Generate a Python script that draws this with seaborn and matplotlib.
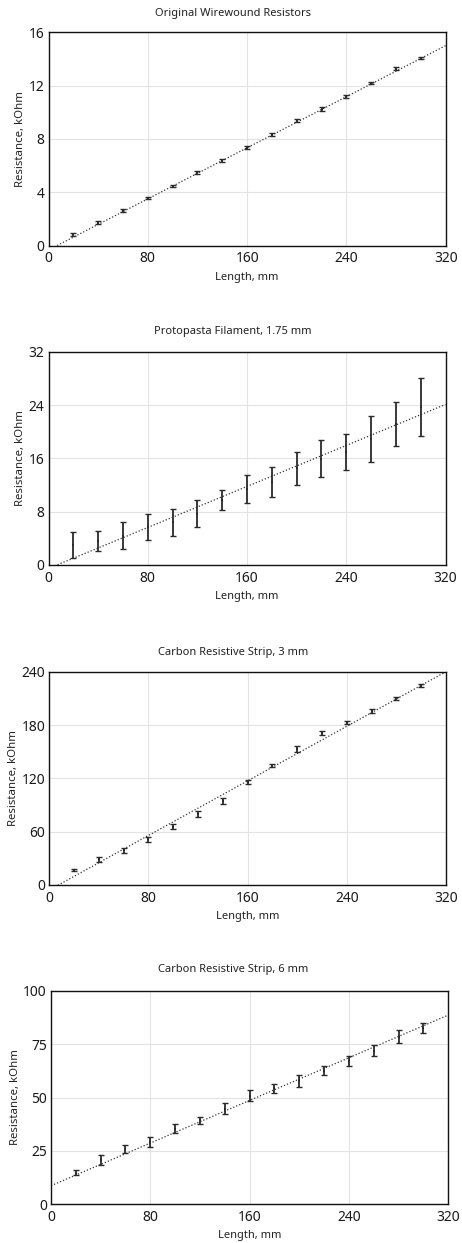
import numpy as np
import pandas as pd
import matplotlib
matplotlib.use("Agg")
import matplotlib.pyplot as plt
import seaborn as sns
from matplotlib.ticker import MultipleLocator

# ---------------- data ----------------
length_mm = [20, 40, 60, 80, 100, 120, 140, 160, 180, 200, 220, 240, 260, 280, 300]

titles = ["Original Wirewound Resistors",
          "Protopasta Filament, 1.75 mm",
          "Carbon Resistive Strip, 3 mm",
          "Carbon Resistive Strip, 6 mm"]

wire_r = [0.85, 1.72, 2.62, 3.57, 4.47, 5.5, 6.4, 7.35, 8.32, 9.4, 10.25, 11.2, 12.22, 13.27, 14.07]
wire_err = [0.1, 0.1, 0.12, 0.1, 0.1, 0.12, 0.1, 0.12, 0.12, 0.1, 0.12, 0.1, 0.08, 0.12, 0.08]

proto_r = [3.0, 3.55, 4.4, 5.7, 6.4, 7.7, 9.7, 11.4, 12.45, 14.5, 15.95, 16.9, 18.9, 21.15, 23.7]
proto_err = [1.9, 1.5, 2.0, 1.9, 2.0, 2.0, 1.5, 2.1, 2.2, 2.5, 2.8, 2.7, 3.4, 3.25, 4.3]

strip3_r = [16.9, 28.9, 39.0, 51.4, 65.6, 79.9, 94.5, 115.9, 134.6, 153.0, 171.0, 182.6, 196.0, 210.0, 224.3]
strip3_err = [1.0, 2.5, 2.5, 2.5, 2.5, 3.0, 3.0, 2.0, 1.8, 3.0, 2.0, 1.5, 2.0, 1.5, 1.5]

strip6_r = [14.8, 20.7, 25.9, 29.2, 35.4, 39.3, 44.8, 50.9, 54.3, 57.9, 62.6, 67.2, 71.9, 78.5, 82.7]
strip6_err = [1.2, 2.4, 2.0, 2.4, 2.1, 1.6, 2.6, 2.6, 2.2, 2.8, 2.2, 2.3, 2.7, 3.2, 2.3]

# linear fit (slope, intercept)
fit_slope = [0.04788, 0.0769, 0.7675, 0.2497]
fit_intercept = [-0.32, -0.52, -5.6, 8.7]

y_max = [16, 32, 240, 100]
y_major = [4, 8, 60, 25]
x_ticks = [0, 80, 160, 240, 320]

series_r = [wire_r, proto_r, strip3_r, strip6_r]
series_err = [wire_err, proto_err, strip3_err, strip6_err]

# ---------------- layout (pixels) ----------------
W, H = 462, 1243
boxes = [  # left, right, top, bottom
    (48.5, 445.7, 32.3, 245.7),
    (48.5, 445.5, 351.7, 565.0),
    (49.3, 446.0, 671.7, 885.0),
    (51.0, 448.3, 990.7, 1204.3),
]
title_y = [13.3, 331.7, 652.0, 969.3]

sns.set_theme(style="white")
plt.rcParams['font.family'] = ['Noto Sans', 'DejaVu Sans']

fig = plt.figure(figsize=(W / 100, H / 100), dpi=100)

for i in range(4):
    l, r, t, b = boxes[i]
    ax = fig.add_axes([l / W, 1 - b / H, (r - l) / W, (b - t) / H])
    ax.set_facecolor("white")

    df = pd.DataFrame({"x": length_mm, "y": series_r[i], "e": series_err[i]})
    fit_df = pd.DataFrame({"x": [0, 320]})
    fit_df["y"] = fit_slope[i] * fit_df["x"] + fit_intercept[i]

    sns.lineplot(data=fit_df, x="x", y="y", ax=ax, color="#333333",
                 linestyle=(0, (1, 1.6)), linewidth=0.9, zorder=2)
    ax.errorbar(df["x"], df["y"], yerr=df["e"], fmt="none", ecolor="#2a2a2a",
                elinewidth=1.3, capsize=2, capthick=1.0, zorder=3)
    sns.scatterplot(data=df, x="x", y="y", ax=ax, marker="s", s=2,
                    color="#2a2a2a", edgecolor="none", zorder=4)

    ax.set_xlim(0, 320)
    ax.set_ylim(0, y_max[i])
    ax.set_xticks(x_ticks)
    ax.xaxis.set_minor_locator(MultipleLocator(40))
    ax.yaxis.set_major_locator(MultipleLocator(y_major[i]))
    ax.yaxis.set_minor_locator(MultipleLocator(y_major[i] / 2))
    ax.grid(True, which="major", color="#e3e3e3", linewidth=0.8)
    ax.set_axisbelow(True)

    ax.tick_params(axis="both", which="major", direction="in", length=5,
                   width=0.8, color="#222222", labelsize=10, labelcolor="#1a1a1a",
                   pad=3)
    ax.tick_params(axis="both", which="minor", direction="in", length=3,
                   width=0.8, color="#222222")
    ax.tick_params(axis="x", which="major", pad=4)
    for s in ax.spines.values():
        s.set_color("#111111")
        s.set_linewidth(1.0)

    ax.set_xlabel("Length, mm", fontsize=8, color="#222222", labelpad=4)
    ax.set_ylabel("Resistance, kOhm", fontsize=8.2, color="#222222", labelpad=1.5)

    fig.text(233 / W, 1 - title_y[i] / H, titles[i], ha="center", va="center",
             fontsize=8, color="#222222")

fig.savefig("out.png", dpi=100, facecolor="white")
